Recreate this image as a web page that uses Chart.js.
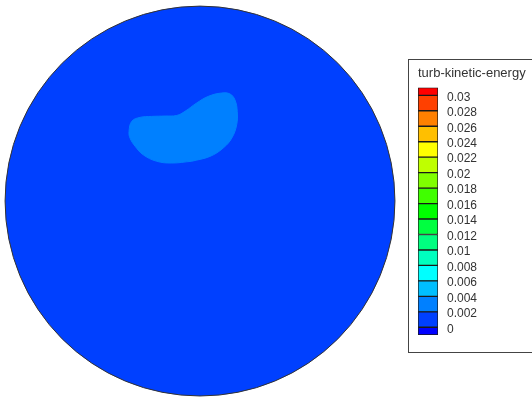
<!DOCTYPE html>
<html>
<head>
<meta charset="utf-8">
<script src="https://cdn.jsdelivr.net/npm/chart.js@4/dist/chart.umd.min.js"></script>
<style>
  html, body { margin: 0; padding: 0; background: #fff; overflow: hidden; }
  #plot { position: absolute; left: 0; top: 0; }
  #legendBox {
    position: absolute; left: 408px; top: 59px; width: 130px; height: 292px;
    border: 1px solid #444; background: #fff;
  }
</style>
</head>
<body>
<canvas id="plot" width="532" height="398"></canvas>
<div id="legendBox"><canvas id="legend" width="130" height="292"></canvas></div>
<script>
// contour levels (colour bar tick labels) and band colours, bottom to top
const levels = [0, 0.002, 0.004, 0.006, 0.008, 0.01, 0.012, 0.014, 0.016,
                0.018, 0.02, 0.022, 0.024, 0.026, 0.028, 0.03];
const bandColors = ['#0000ff', '#0040ff', '#0080ff', '#00bfff', '#00ffff', '#00ffbf',
                    '#00ff80', '#00ff40', '#00ff00', '#40ff00', '#80ff00', '#bfff00',
                    '#ffff00', '#ffbf00', '#ff8000', '#ff4000', '#ff0000'];
const barMin = -0.001;
const barMax = 0.031;

// domain: disk of radius 1 (r/R), value in band 0..0.002
const diskRadius = 1;
const diskColor = bandColors[1];

// the one region in band 0.002..0.004 (x/R, y/R)
const contourX = [-0.043, -0.145, -0.222, -0.291, -0.333, -0.359, -0.364, -0.350, -0.308,
                  -0.248, -0.179, -0.119, -0.077, -0.017, 0.043, 0.111, 0.154, 0.179,
                  0.191, 0.188, 0.163, 0.119, 0.051, -0.043];
const contourY = [0.204, 0.195, 0.204, 0.237, 0.281, 0.323, 0.357, 0.409, 0.429,
                  0.434, 0.436, 0.439, 0.460, 0.503, 0.537, 0.554, 0.549, 0.519,
                  0.460, 0.391, 0.323, 0.272, 0.229, 0.204];
const contourColor = bandColors[2];

// view window
const xMin = -1.026, xMax = 1.703;
const yMin = -1.010, yMax = 1.031;

Chart.defaults.font.family = '"Liberation Sans", Arial, sans-serif';
Chart.defaults.color = '#222';

function radiusPx(ctx) {
  const sx = ctx.chart.scales.x;
  return sx.getPixelForValue(diskRadius) - sx.getPixelForValue(0);
}

new Chart(document.getElementById('plot'), {
  type: 'line',
  data: {
    datasets: [
      {
        label: 'k 0.002-0.004',
        data: contourX.map((x, i) => ({ x: x, y: contourY[i] })),
        order: 0,
        borderColor: contourColor,
        backgroundColor: contourColor,
        borderWidth: 1,
        fill: 'shape',
        tension: 0.4,
        pointRadius: 0
      },
      {
        label: 'disk',
        data: [{ x: 0, y: 0 }],
        order: 1,
        showLine: false,
        pointStyle: 'circle',
        pointRadius: radiusPx,
        pointBackgroundColor: diskColor,
        pointBorderColor: '#333',
        pointBorderWidth: 1
      }
    ]
  },
  options: {
    responsive: false,
    animation: false,
    events: [],
    layout: { padding: 0 },
    plugins: { legend: { display: false }, tooltip: { enabled: false } },
    scales: {
      x: { type: 'linear', min: xMin, max: xMax, display: false },
      y: { type: 'linear', min: yMin, max: yMax, display: false }
    }
  }
});

// colour bar
const bandBounds = [barMin].concat(levels, [barMax]);
new Chart(document.getElementById('legend'), {
  type: 'bar',
  data: {
    labels: [''],
    datasets: bandColors.map((c, i) => ({
      data: [[bandBounds[i], bandBounds[i + 1]]],
      backgroundColor: c,
      borderColor: '#1a1a1a',
      borderWidth: 1,
      borderSkipped: false,
      grouped: false,
      barPercentage: 1,
      categoryPercentage: 1
    }))
  },
  options: {
    responsive: false,
    animation: false,
    events: [],
    layout: { padding: { left: 9, right: 0, top: 0, bottom: 17 } },
    plugins: {
      legend: { display: false },
      tooltip: { enabled: false },
      title: {
        display: true,
        text: 'turb-kinetic-energy',
        align: 'start',
        color: '#333',
        font: { size: 13, weight: 'normal' },
        padding: { top: 6, bottom: 6 }
      }
    },
    scales: {
      x: { display: false },
      y: {
        position: 'right',
        min: barMin,
        max: barMax,
        grid: { display: false, drawTicks: false },
        border: { display: false },
        afterBuildTicks: (s) => { s.ticks = levels.map(v => ({ value: v })); },
        afterFit: (s) => { s.width = 101; },
        ticks: {
          autoSkip: false,
          padding: 9,
          labelOffset: 2,
          font: { size: 12 },
          color: '#333',
          callback: (v) => String(v)
        }
      }
    }
  }
});
</script>
</body>
</html>
